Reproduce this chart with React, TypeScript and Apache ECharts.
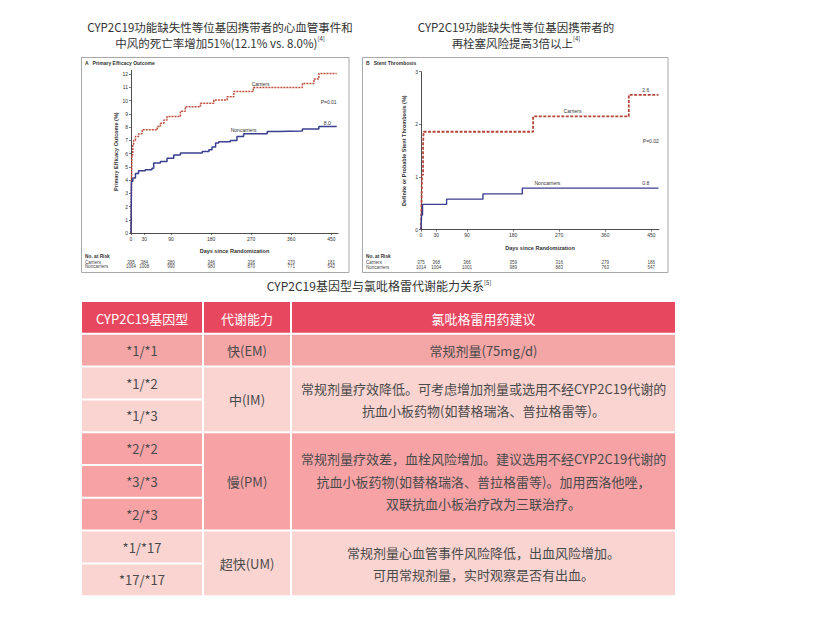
import React, { useEffect, useRef } from "react";
import * as echarts from "echarts";

// ---------- data ----------
const dayTicks = [0, 30, 90, 180, 270, 360, 450];
const effTicks = [0, 1, 2, 3, 4, 5, 6, 7, 8, 9, 10, 11, 12];
const stTicks = [0, 1, 2, 3];

const effCarriers = [[0, 0], [1, 3.5], [2, 5.9], [4, 6.7], [6, 7.0], [10, 7.3], [17, 7.5], [25, 7.8], [59, 8.05], [66, 8.3], [74, 8.55], [81, 8.8], [111, 9.2], [122, 9.55], [156, 9.8], [186, 10.05], [216, 10.3], [231, 10.7], [275, 11.0], [385, 11.3], [411, 11.65], [422, 12.05], [462, 12.05]];
const effNoncarriers = [[0, 0], [1, 3.9], [4, 4.15], [10, 4.5], [17, 4.7], [32, 4.78], [47, 4.9], [51, 5.3], [66, 5.4], [81, 5.66], [96, 5.9], [111, 6.04], [160, 6.16], [175, 6.3], [182, 6.5], [190, 6.8], [197, 6.9], [223, 7.0], [238, 7.3], [253, 7.5], [306, 7.67], [328, 7.72], [385, 7.87], [422, 8.05], [462, 8.05]];
const stCarriers = [[0, 0], [1, 0.5], [2, 1.04], [4, 1.6], [5, 1.86], [219, 2.15], [406, 2.56], [464, 2.56]];
const stNoncarriers = [[0, 0], [1, 0.28], [3, 0.48], [50, 0.58], [121, 0.68], [198, 0.79], [464, 0.79]];

const effRiskCarriers = [395, 384, 380, 346, 336, 270, 181];
const effRiskNoncarriers = [1064, 1008, 990, 980, 870, 771, 542];
const stRiskCarriers = [375, 368, 366, 359, 316, 279, 186];
const stRiskNoncarriers = [1014, 1004, 1001, 989, 883, 763, 547];

const effAnnotations = [
  { name: "Carriers", value: [291, 11.25] },
  { name: "12.1", value: [441, 12.35] },
  { name: "P=0.01", value: [444, 9.93] },
  { name: "Noncarriers", value: [253, 7.8] },
  { name: "8.0", value: [441, 8.35] },
];
const stAnnotations = [
  { name: "Carriers", value: [296, 2.25] },
  { name: "2.6", value: [439, 2.66] },
  { name: "P=0.02", value: [449, 1.68] },
  { name: "Noncarriers", value: [247, 0.89] },
  { name: "0.8", value: [439, 0.89] },
];

const tableHeaders = ["CYP2C19基因型", "代谢能力", "氯吡格雷用药建议"];
const genotypes = ["*1/*1", "*1/*2", "*1/*3", "*2/*2", "*3/*3", "*2/*3", "*1/*17", "*17/*17"];
const metabolizers = ["快(EM)", "中(IM)", "慢(PM)", "超快(UM)"];
const groupSpans = [1, 2, 3, 2];
const recommendations = [
  "常规剂量(75mg/d)",
  "常规剂量疗效降低。可考虑增加剂量或选用不经CYP2C19代谢的\n抗血小板药物(如替格瑞洛、普拉格雷等)。",
  "常规剂量疗效差，血栓风险增加。建议选用不经CYP2C19代谢的\n抗血小板药物(如替格瑞洛、普拉格雷等)。加用西洛他唑，\n双联抗血小板治疗改为三联治疗。",
  "常规剂量心血管事件风险降低，出血风险增加。\n可用常规剂量，实时观察是否有出血。",
];

// ---------- styles ----------
const CJK = '"Noto Sans CJK SC", "Noto Sans", sans-serif';
const LAT = '"Liberation Sans", Arial, sans-serif';
const headerColor = "#E8485F";
const groupColors = ["#F4A6A6", "#FAD4D0", "#F7A3A6", "#FAD4D0"];
const bodyText = "#4a4a4a";

function txt(x: number, y: number, text: string, opts: any = {}) {
  const align = opts.align || "center";
  return {
    type: "text",
    x,
    y,
    silent: true,
    z: opts.z ?? 10,
    style: {
      text,
      fill: opts.fill || "#333",
      fontSize: opts.fontSize || 12,
      fontFamily: opts.fontFamily || CJK,
      fontWeight: opts.fontWeight || "normal",
      lineHeight: opts.lineHeight,
      align,
      textAlign: align,
      verticalAlign: "middle",
      textVerticalAlign: "middle",
      rich: opts.rich,
    },
  };
}

function rect(x: number, y: number, w: number, h: number, fill: string, extra: any = {}) {
  return { type: "rect", silent: true, z: 1, shape: { x, y, width: w, height: h }, style: { fill, ...extra } };
}

function buildTable() {
  const cols = [81, 203, 291, 676];
  const top = 301;
  const rowH = 32.8;
  const els: any[] = [];
  const g = 1;
  for (let c = 0; c < 3; c++) {
    els.push(rect(cols[c] + g, top + g, cols[c + 1] - cols[c] - 2 * g, rowH - 2 * g, headerColor));
    els.push(txt((cols[c] + cols[c + 1]) / 2, top + rowH / 2 + 1, tableHeaders[c], { fill: "#fff", fontSize: 13 }));
  }
  let row = 1;
  for (let gi = 0; gi < metabolizers.length; gi++) {
    const span = groupSpans[gi];
    const y0 = top + row * rowH;
    const color = groupColors[gi];
    for (let k = 0; k < span; k++) {
      const yy = y0 + k * rowH;
      els.push(rect(cols[0] + g, yy + g, cols[1] - cols[0] - 2 * g, rowH - 2 * g, color));
      els.push(txt((cols[0] + cols[1]) / 2, yy + rowH / 2, genotypes[row - 1 + k], { fill: bodyText, fontSize: 13 }));
    }
    const h = span * rowH;
    els.push(rect(cols[1] + g, y0 + g, cols[2] - cols[1] - 2 * g, h - 2 * g, color));
    els.push(txt((cols[1] + cols[2]) / 2, y0 + h / 2, metabolizers[gi], { fill: bodyText, fontSize: 13 }));
    els.push(rect(cols[2] + g, y0 + g, cols[3] - cols[2] - 2 * g, h - 2 * g, color));
    els.push(txt((cols[2] + cols[3]) / 2, y0 + h / 2, recommendations[gi], { fill: bodyText, fontSize: 13, lineHeight: 22.5 }));
    row += span;
  }
  return els;
}

const sup = { fontSize: 6, verticalAlign: "top", padding: [0, 0, 5, 0], fill: "#333", fontFamily: CJK };

function xMain(gridIndex: number) {
  return {
    type: "value",
    gridIndex,
    min: 0,
    max: 465,
    axisLine: { show: true, onZero: false, lineStyle: { color: "#222", width: 0.8 } },
    axisTick: { show: true, customValues: dayTicks, length: 2, lineStyle: { color: "#222", width: 0.6 } },
    axisLabel: { customValues: dayTicks, fontSize: 5, margin: 3, color: "#333", fontFamily: LAT },
    splitLine: { show: false },
    name: "Days since Randomization",
    nameLocation: "middle",
    nameGap: 15,
    nameTextStyle: { fontSize: 5.5, fontWeight: "bold", color: "#333", fontFamily: LAT },
  };
}

function xRisk(gridIndex: number, offset: number, values: number[]) {
  return {
    type: "value",
    gridIndex,
    min: 0,
    max: 465,
    position: "bottom",
    offset,
    axisLine: { show: false },
    axisTick: { show: false },
    splitLine: { show: false },
    axisLabel: {
      customValues: dayTicks,
      margin: 0,
      fontSize: 4.5,
      color: "#444",
      fontFamily: LAT,
      formatter: (v: number) => {
        const i = dayTicks.indexOf(v);
        return i >= 0 ? String(values[i]) : "";
      },
    },
  };
}

function yAxis(gridIndex: number, max: number, ticks: number[], name: string, gap: number) {
  return {
    type: "value",
    gridIndex,
    min: 0,
    max,
    axisLine: { show: true, lineStyle: { color: "#222", width: 0.8 } },
    axisTick: { show: true, customValues: ticks, length: 2, lineStyle: { color: "#222", width: 0.6 } },
    axisLabel: { customValues: ticks, fontSize: 5, margin: 3, color: "#333", fontFamily: LAT },
    splitLine: { show: false },
    name,
    nameLocation: "middle",
    nameGap: gap,
    nameTextStyle: { fontSize: 5.5, fontWeight: "bold", color: "#333", fontFamily: LAT },
  };
}

function kmSeries(name: string, xi: number, yi: number, data: number[][], lineStyle: any, annotations?: any[]) {
  const s: any = {
    name,
    type: "line",
    xAxisIndex: xi,
    yAxisIndex: yi,
    step: "end",
    showSymbol: false,
    symbol: "none",
    data,
    lineStyle,
    silent: true,
  };
  if (annotations) {
    s.markPoint = {
      symbol: "circle",
      symbolSize: 0,
      silent: true,
      label: { show: true, position: "inside", fontSize: 5, color: "#333", fontFamily: LAT, formatter: "{b}" },
      data: annotations.map((a) => ({ name: a.name, coord: a.value })),
    };
  }
  return s;
}

function buildOption() {
  const frames: any[] = [
    rect(81.5, 57.5, 267.5, 215, "#fff", { stroke: "#a8a8a8", lineWidth: 1 }),
    rect(362.5, 57.5, 305.5, 215, "#fff", { stroke: "#a8a8a8", lineWidth: 1 }),
  ];
  frames.forEach((f) => (f.z = 0));
  const graphics: any[] = [
    ...frames,
    txt(220, 35, "CYP2C19功能缺失性等位基因携带者的心血管事件和\n中风的死亡率增加51%(12.1% vs. 8.0%){s|[4]}", { fontSize: 11.5, lineHeight: 16, rich: { s: sup } }),
    txt(516, 35, "CYP2C19功能缺失性等位基因携带者的\n再栓塞风险提高3倍以上{s|[4]}", { fontSize: 11.5, lineHeight: 16, rich: { s: sup } }),
    txt(379, 285, "CYP2C19基因型与氯吡格雷代谢能力关系{s|[5]}", { fontSize: 12, rich: { s: sup } }),
    txt(85, 63, "A   Primary Efficacy Outcome", { align: "left", fontSize: 5, fontWeight: "bold", fontFamily: LAT }),
    txt(366, 63, "B   Stent Thrombosis", { align: "left", fontSize: 5, fontWeight: "bold", fontFamily: LAT }),
    txt(85, 256, "No. at Risk", { align: "left", fontSize: 4.8, fontWeight: "bold", fontFamily: LAT }),
    txt(85, 262, "Carriers", { align: "left", fontSize: 4.5, fontFamily: LAT, fill: "#444" }),
    txt(85, 266.5, "Noncarriers", { align: "left", fontSize: 4.5, fontFamily: LAT, fill: "#444" }),
    txt(366, 256, "No. at Risk", { align: "left", fontSize: 4.8, fontWeight: "bold", fontFamily: LAT }),
    txt(366, 262, "Carriers", { align: "left", fontSize: 4.5, fontFamily: LAT, fill: "#444" }),
    txt(366, 267, "Noncarriers", { align: "left", fontSize: 4.5, fontFamily: LAT, fill: "#444" }),
    ...buildTable(),
  ];

  return {
    animation: false,
    backgroundColor: "#fff",
    textStyle: { fontFamily: LAT },
    grid: [
      { left: 131, top: 70.3, width: 207, height: 162.7 },
      { left: 421, top: 71.7, width: 238, height: 158 },
    ],
    xAxis: [
      xMain(0),
      xRisk(0, 26.5, effRiskCarriers),
      xRisk(0, 31, effRiskNoncarriers),
      xMain(1),
      xRisk(1, 30, stRiskCarriers),
      xRisk(1, 35, stRiskNoncarriers),
    ],
    yAxis: [
      yAxis(0, 12.3, effTicks, "Primary Efficacy Outcome (%)", 12),
      yAxis(1, 3, stTicks, "Definite or Probable Stent Thrombosis (%)", 14),
    ],
    graphic: { elements: graphics },
    series: [
      kmSeries("Carriers", 0, 0, effCarriers, { color: "#BE4E3C", width: 1.5, type: [2, 1] }, effAnnotations),
      kmSeries("Noncarriers", 0, 0, effNoncarriers, { color: "#3B3F8F", width: 1.5 }),
      kmSeries("Carriers", 3, 1, stCarriers, { color: "#B5453A", width: 1.8, type: [3, 1.5] }, stAnnotations),
      kmSeries("Noncarriers", 3, 1, stNoncarriers, { color: "#3B3F8F", width: 1.4 }),
    ],
  };
}

export default function App() {
  const ref = useRef<HTMLDivElement>(null);
  useEffect(() => {
    if (!ref.current) return;
    const chart = echarts.init(ref.current, null, { renderer: "svg" });
    chart.setOption(buildOption() as any);
    return () => chart.dispose();
  }, []);
  return (
    <div
      ref={ref}
      style={{ position: "fixed", left: 0, top: 0, width: 814, height: 641, background: "#fff" }}
    />
  );
}
